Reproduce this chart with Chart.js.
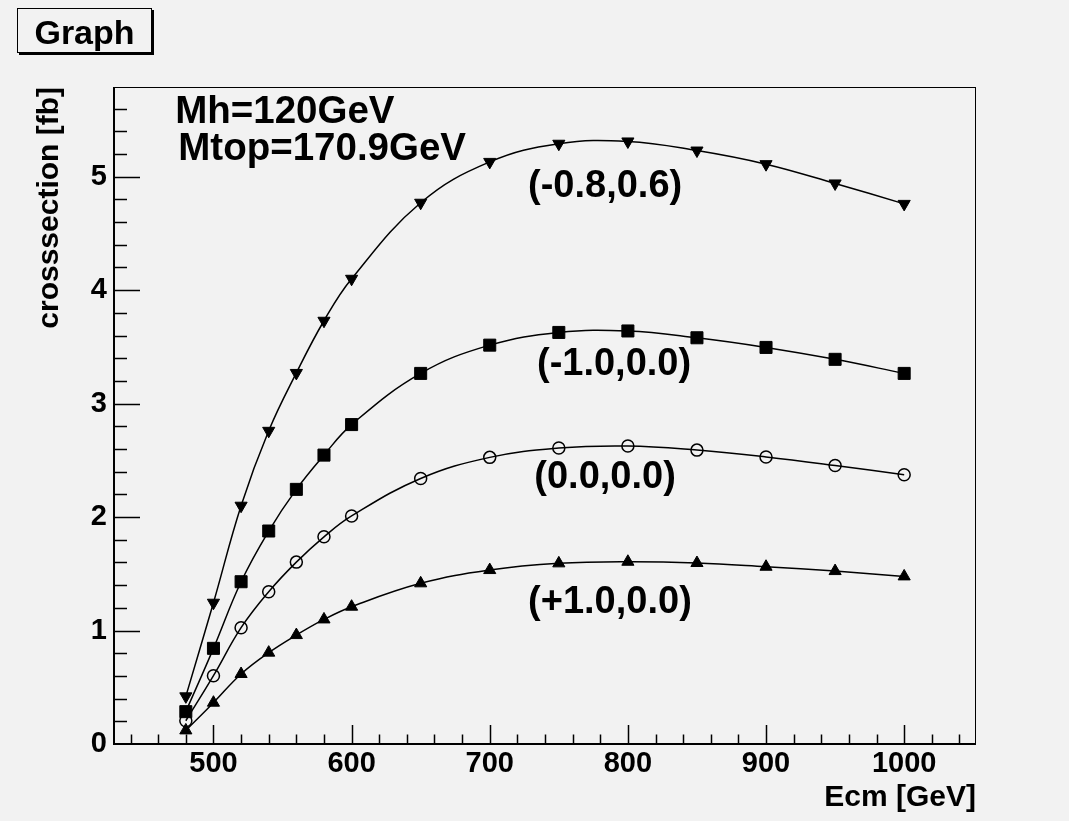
<!DOCTYPE html>
<html><head><meta charset="utf-8">
<script src="https://cdn.jsdelivr.net/npm/chart.js@4/dist/chart.umd.min.js"></script>
<style>html,body{margin:0;padding:0;background:#f2f2f2;} #wrap{width:1069px;height:821px;}</style>
</head><body><div id="wrap"><canvas id="c" width="1069" height="821"></canvas></div>
<script>
// ---- data ----
const ecm = [480, 500, 520, 540, 560, 580, 600, 650, 700, 750, 800, 850, 900, 950, 1000];
const xsM08P06 = [0.42, 1.245, 2.10, 2.76, 3.27, 3.73, 4.10, 4.77, 5.13, 5.29, 5.31, 5.23, 5.11, 4.94, 4.76];
const xsM10P00 = [0.285, 0.843, 1.43, 1.877, 2.244, 2.546, 2.815, 3.266, 3.515, 3.627, 3.64, 3.58, 3.495, 3.39, 3.266];
const xsP00P00 = [0.205, 0.602, 1.025, 1.342, 1.603, 1.826, 2.01, 2.34, 2.526, 2.608, 2.626, 2.59, 2.53, 2.455, 2.373];
const xsP10P00 = [0.12, 0.364, 0.617, 0.805, 0.96, 1.098, 1.21, 1.416, 1.533, 1.592, 1.606, 1.595, 1.562, 1.524, 1.477];
const seriesLabels = ['(-0.8,0.6)', '(-1.0,0.0)', '(0.0,0.0)', '(+1.0,0.0)'];
const xTickValues = [500, 600, 700, 800, 900, 1000];
const yTickValues = [0, 1, 2, 3, 4, 5];
const xRange = [428, 1052];
const yRange = [0, 5.79];
const titleText = 'Graph';
const xTitle = 'Ecm [GeV]';
const yTitle = 'crosssection [fb]';
const infoLines = ['Mh=120GeV', 'Mtop=170.9GeV'];

// ---- label placement (data coords) ----
const labelPos = [
  {x: 783.5, y: 4.82},
  {x: 790, y: 3.25},
  {x: 783.5, y: 2.253},
  {x: 787, y: 1.152}
];
const infoPos = [{x: 472.3, y: 5.47}, {x: 474.5, y: 5.145}];

const FONT = '"Liberation Sans", Arial, Helvetica, sans-serif';

function mk(values, style, opts) {
  return Object.assign({
    data: ecm.map((x, i) => ({x: x, y: values[i]})),
    borderColor: '#000',
    borderWidth: 1.5,
    tension: 0.4,
    pointStyle: style,
    pointBackgroundColor: '#000',
    pointBorderColor: '#000',
    pointBorderWidth: 1,
    fill: false
  }, opts);
}

const datasets = [
  mk(xsM08P06, 'triangle', {pointRadius: 7, pointRotation: 180}),
  mk(xsM10P00, 'rect', {pointRadius: 8.5}),
  mk(xsP00P00, 'circle', {pointRadius: 6, pointBackgroundColor: 'rgba(0,0,0,0)', pointBorderWidth: 1.5}),
  mk(xsP10P00, 'triangle', {pointRadius: 7})
];

const deco = {
  id: 'deco',
  beforeDraw(chart) {
    const ctx = chart.ctx;
    ctx.save();
    ctx.fillStyle = '#f2f2f2';
    ctx.fillRect(0, 0, chart.width, chart.height);
    ctx.restore();
  },
  afterDraw(chart) {
    const ctx = chart.ctx;
    const a = chart.chartArea;
    const xs = chart.scales.x, ys = chart.scales.y;
    ctx.save();
    // frame
    ctx.strokeStyle = '#000';
    ctx.lineWidth = 1;
    ctx.strokeRect(a.left + 0.5, a.top + 0.5, a.right - a.left - 1, a.bottom - a.top);
    ctx.lineWidth = 2;
    ctx.beginPath();
    ctx.moveTo(a.left, a.top); ctx.lineTo(a.left, a.bottom + 1);
    ctx.moveTo(a.left - 1, a.bottom); ctx.lineTo(a.right, a.bottom);
    ctx.stroke();
    // ticks
    ctx.lineWidth = 1.5;
    ctx.beginPath();
    for (let v = 440; v <= xRange[1]; v += 20) {
      const px = Math.round(xs.getPixelForValue(v)) + 0.5;
      const major = xTickValues.includes(v);
      const len = major ? 19 : 9.5;
      ctx.moveTo(px, a.bottom); ctx.lineTo(px, a.bottom - len);
    }
    for (let k = 1; k * 0.2 <= yRange[1]; k++) {
      const v = k * 0.2;
      const py = Math.round(ys.getPixelForValue(v)) + 0.5;
      const major = (k % 5) === 0;
      const len = major ? 26 : 13;
      ctx.moveTo(a.left, py); ctx.lineTo(a.left + len, py);
    }
    ctx.stroke();

    // title box
    ctx.fillStyle = '#000';
    ctx.fillRect(19, 10, 135, 45);
    ctx.fillStyle = '#f2f2f2';
    ctx.fillRect(17, 8, 135, 45);
    ctx.lineWidth = 1;
    ctx.strokeStyle = '#000';
    ctx.strokeRect(17.5, 8.5, 134, 44);
    ctx.fillStyle = '#000';
    ctx.font = 'bold 34px ' + FONT;
    ctx.textAlign = 'center';
    ctx.textBaseline = 'alphabetic';
    ctx.fillText(titleText, 84.5, 44);

    // axis titles
    ctx.font = 'bold 30px ' + FONT;
    ctx.textAlign = 'right';
    ctx.fillText(xTitle, a.right, 806);
    ctx.save();
    ctx.translate(58, a.top);
    ctx.rotate(-Math.PI / 2);
    ctx.textAlign = 'right';
    ctx.textBaseline = 'alphabetic';
    ctx.fillText(yTitle, 0, 0);
    ctx.restore();

    // info text
    ctx.font = 'bold 38.5px ' + FONT;
    ctx.textAlign = 'left';
    infoLines.forEach((t, i) => {
      ctx.fillText(t, xs.getPixelForValue(infoPos[i].x), ys.getPixelForValue(infoPos[i].y));
    });
    // series labels
    ctx.font = 'bold 38px ' + FONT;
    ctx.textAlign = 'center';
    seriesLabels.forEach((t, i) => {
      ctx.fillText(t, xs.getPixelForValue(labelPos[i].x), ys.getPixelForValue(labelPos[i].y));
    });
    ctx.restore();
  }
};

new Chart(document.getElementById('c'), {
  type: 'line',
  data: {datasets: datasets},
  options: {
    responsive: false,
    animation: false,
    events: [],
    layout: {padding: {top: 87, right: 93, left: 0, bottom: 0}},
    plugins: {legend: {display: false}, tooltip: {enabled: false}},
    scales: {
      x: {
        type: 'linear', min: xRange[0], max: xRange[1],
        grid: {display: false, drawTicks: false},
        border: {display: false},
        afterBuildTicks: s => { s.ticks = xTickValues.map(v => ({value: v})); },
        afterFit: s => { s.height = 77; },
        ticks: {color: '#000', padding: 3, maxRotation: 0, autoSkip: false,
          callback: v => String(v),
          font: {family: FONT, size: 29, weight: 'bold'}}
      },
      y: {
        type: 'linear', min: yRange[0], max: yRange[1],
        grid: {display: false, drawTicks: false},
        border: {display: false},
        afterBuildTicks: s => { s.ticks = yTickValues.map(v => ({value: v})); },
        afterFit: s => { s.width = 114; },
        ticks: {color: '#000', padding: 7, autoSkip: false,
          callback: v => String(v),
          font: {family: FONT, size: 29, weight: 'bold'}}
      }
    }
  },
  plugins: [deco]
});
</script></body></html>
